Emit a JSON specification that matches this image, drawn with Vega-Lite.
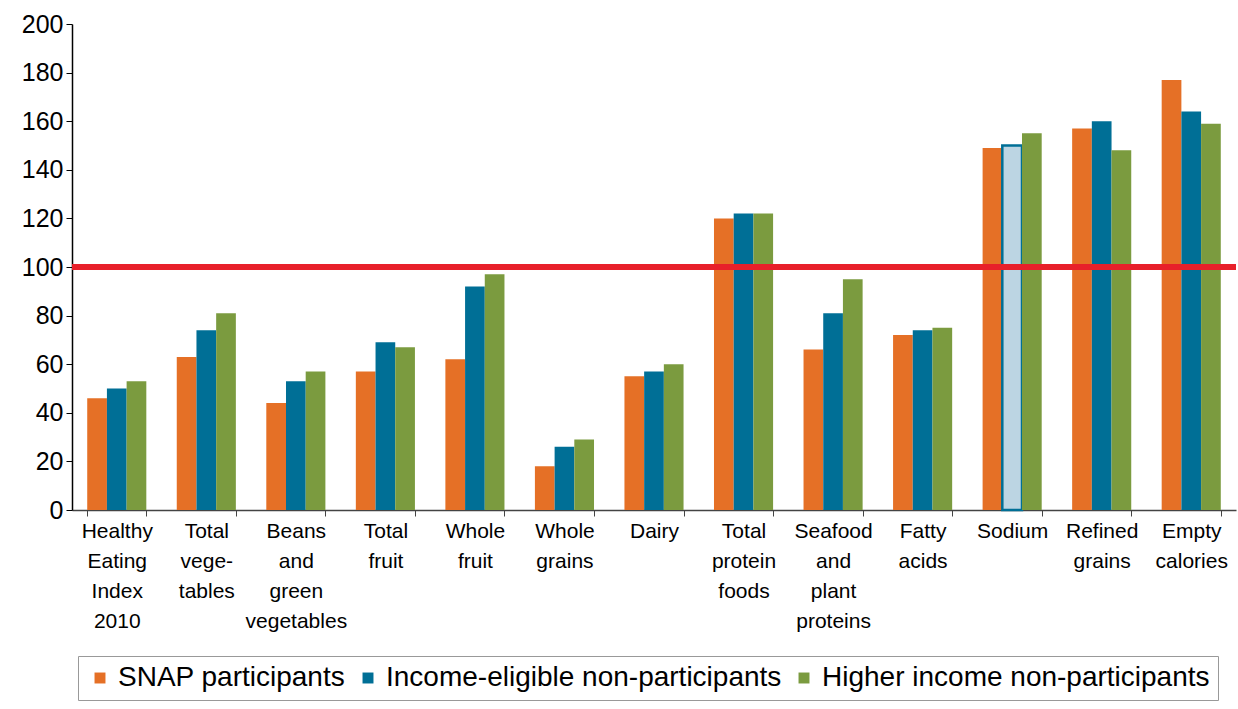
{
  "$schema": "https://vega.github.io/schema/vega-lite/v6.json",
  "width": 1164,
  "height": 486,
  "autosize": "none",
  "padding": {"left": 72, "top": 24, "right": 2, "bottom": 199},
  "background": "white",
  "config": {"font": "Liberation Sans", "view": {"stroke": null}},
  "data": {
    "values": [
      {"category": "Healthy|Eating|Index|2010", "group": "SNAP participants", "value": 46},
      {"category": "Healthy|Eating|Index|2010", "group": "Income-eligible non-participants", "value": 50},
      {"category": "Healthy|Eating|Index|2010", "group": "Higher income non-participants", "value": 53},
      {"category": "Total|vege-|tables", "group": "SNAP participants", "value": 63},
      {"category": "Total|vege-|tables", "group": "Income-eligible non-participants", "value": 74},
      {"category": "Total|vege-|tables", "group": "Higher income non-participants", "value": 81},
      {"category": "Beans|and|green|vegetables", "group": "SNAP participants", "value": 44},
      {"category": "Beans|and|green|vegetables", "group": "Income-eligible non-participants", "value": 53},
      {"category": "Beans|and|green|vegetables", "group": "Higher income non-participants", "value": 57},
      {"category": "Total|fruit", "group": "SNAP participants", "value": 57},
      {"category": "Total|fruit", "group": "Income-eligible non-participants", "value": 69},
      {"category": "Total|fruit", "group": "Higher income non-participants", "value": 67},
      {"category": "Whole|fruit", "group": "SNAP participants", "value": 62},
      {"category": "Whole|fruit", "group": "Income-eligible non-participants", "value": 92},
      {"category": "Whole|fruit", "group": "Higher income non-participants", "value": 97},
      {"category": "Whole|grains", "group": "SNAP participants", "value": 18},
      {"category": "Whole|grains", "group": "Income-eligible non-participants", "value": 26},
      {"category": "Whole|grains", "group": "Higher income non-participants", "value": 29},
      {"category": "Dairy", "group": "SNAP participants", "value": 55},
      {"category": "Dairy", "group": "Income-eligible non-participants", "value": 57},
      {"category": "Dairy", "group": "Higher income non-participants", "value": 60},
      {"category": "Total|protein|foods", "group": "SNAP participants", "value": 120},
      {"category": "Total|protein|foods", "group": "Income-eligible non-participants", "value": 122},
      {"category": "Total|protein|foods", "group": "Higher income non-participants", "value": 122},
      {"category": "Seafood|and|plant|proteins", "group": "SNAP participants", "value": 66},
      {"category": "Seafood|and|plant|proteins", "group": "Income-eligible non-participants", "value": 81},
      {"category": "Seafood|and|plant|proteins", "group": "Higher income non-participants", "value": 95},
      {"category": "Fatty|acids", "group": "SNAP participants", "value": 72},
      {"category": "Fatty|acids", "group": "Income-eligible non-participants", "value": 74},
      {"category": "Fatty|acids", "group": "Higher income non-participants", "value": 75},
      {"category": "Sodium", "group": "SNAP participants", "value": 149},
      {"category": "Sodium", "group": "Income-eligible non-participants", "value": 150},
      {"category": "Sodium", "group": "Higher income non-participants", "value": 155},
      {"category": "Refined|grains", "group": "SNAP participants", "value": 157},
      {"category": "Refined|grains", "group": "Income-eligible non-participants", "value": 160},
      {"category": "Refined|grains", "group": "Higher income non-participants", "value": 148},
      {"category": "Empty|calories", "group": "SNAP participants", "value": 177},
      {"category": "Empty|calories", "group": "Income-eligible non-participants", "value": 164},
      {"category": "Empty|calories", "group": "Higher income non-participants", "value": 159}
    ]
  },
  "layer": [
    {
      "mark": {"type": "bar"},
      "encoding": {
        "x": {
          "field": "category",
          "type": "nominal",
          "sort": null,
          "scale": {"paddingInner": 0.34, "paddingOuter": 0.17},
          "axis": {
            "title": null,
            "labelAngle": 0,
            "labelExpr": "split(datum.label, '|')",
            "labelFontSize": 21,
            "labelLineHeight": 30,
            "labelColor": "black",
            "labelBaseline": "top",
            "labelPadding": 4,
            "labelLimit": 0,
            "tickBand": "extent",
            "tickSize": 6,
            "tickColor": "#444",
            "domainColor": "#444",
            "domainWidth": 1.5
          }
        },
        "xOffset": {
          "field": "group",
          "type": "nominal",
          "sort": ["SNAP participants", "Income-eligible non-participants", "Higher income non-participants"],
          "scale": {"paddingInner": 0}
        },
        "y": {
          "field": "value",
          "type": "quantitative",
          "scale": {"domain": [0, 200]},
          "axis": {
            "title": null,
            "values": [0, 20, 40, 60, 80, 100, 120, 140, 160, 180, 200],
            "grid": false,
            "labelFontSize": 25,
            "labelColor": "black",
            "labelPadding": 3,
            "tickSize": 6,
            "tickColor": "black",
            "domainColor": "black",
            "domainWidth": 1.5
          }
        },
        "color": {
          "condition": {
            "test": "datum.category == 'Sodium' && datum.group == 'Income-eligible non-participants'",
            "value": "#bcd5e3"
          },
          "field": "group",
          "type": "nominal",
          "sort": ["SNAP participants", "Income-eligible non-participants", "Higher income non-participants"],
          "scale": {
            "domain": ["SNAP participants", "Income-eligible non-participants", "Higher income non-participants"],
            "range": ["#e57026", "#006f96", "#7b9b3f"]
          },
          "legend": {
            "title": null,
            "orient": "none",
            "legendX": 6,
            "legendY": 632,
            "direction": "horizontal",
            "symbolType": "square",
            "symbolSize": 120,
            "symbolStrokeWidth": 0,
            "labelFontSize": 28,
            "labelColor": "black",
            "labelLimit": 0,
            "labelOffset": 4,
            "columnPadding": 8,
            "padding": 8,
            "strokeColor": "#999"
          }
        },
        "stroke": {
          "condition": {
            "test": "datum.category == 'Sodium' && datum.group == 'Income-eligible non-participants'",
            "value": "#006f96"
          },
          "value": null
        },
        "strokeWidth": {"value": 2.5}
      }
    },
    {
      "mark": {"type": "rule", "color": "#e8202a", "strokeWidth": 5},
      "encoding": {"y": {"datum": 100}}
    }
  ]
}
